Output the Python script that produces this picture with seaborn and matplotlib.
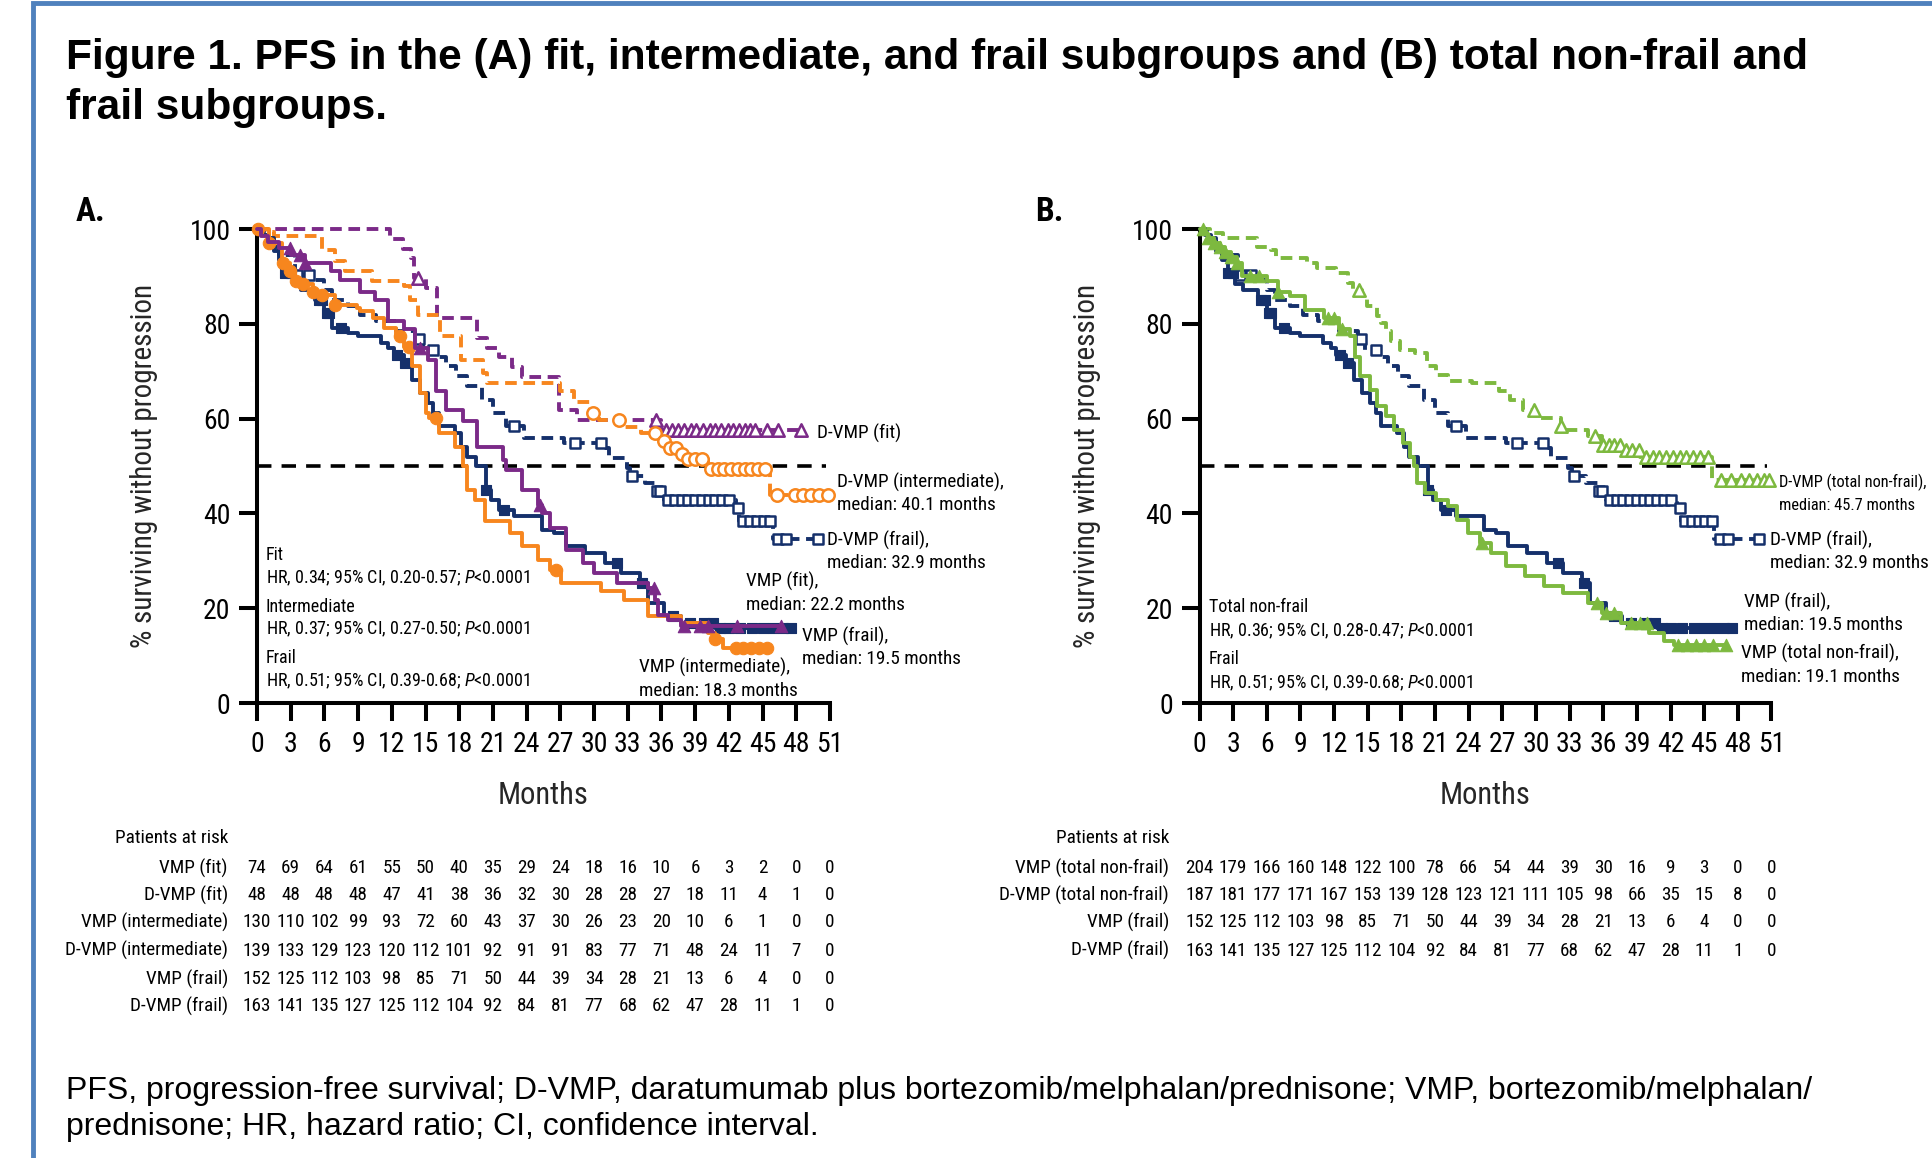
import numpy as np
import pandas as pd
import matplotlib
matplotlib.use("Agg")
import matplotlib.pyplot as plt
import matplotlib.transforms as mtransforms
import matplotlib.patches as mpatches
import matplotlib.font_manager as fm
import seaborn as sns

W, H, DPI = 1933, 1158, 100

# ---------------- axis ticks ----------------
month_ticks = list(range(0, 52, 3))
pct_ticks = [0, 20, 40, 60, 80, 100]

# ---------------- KM curves: step times (months) and survival % after each step ----------------
# VMP (fit)
vmp_fit_t = [0.4, 1.0, 2.0, 3.0, 4.3, 6.6, 7.4, 9.2, 10.5, 11.7, 13.1, 14.1, 15.2, 15.9, 16.8, 18.3,
             19.6, 21.9, 22.2, 23.6, 25.0, 25.4, 26.1, 27.5, 29.0, 30.0, 32.0, 34.8, 35.4, 35.7, 36.6, 37.7]
vmp_fit_s = [98.6, 97.3, 95.9, 94.6, 92.8, 91.2, 89.3, 86.8, 85.1, 80.5, 78.8, 74.9, 72.4, 65.8, 61.9, 59.4,
             54.1, 51.3, 49.2, 45.0, 41.8, 40.1, 36.9, 32.3, 29.5, 27.4, 25.3, 24.3, 21.8, 18.6, 17.6, 16.2]
vmp_fit_end = 46.6
vmp_fit_cens = [2.9, 3.8, 4.3, 14.5, 25.2, 35.3, 38.0, 39.4, 40.1, 42.7, 46.6]

# D-VMP (fit)
dvmp_fit_t = [11.8, 13.0, 13.7, 14.0, 15.0, 16.0, 19.6, 20.5, 21.5, 22.7, 23.6, 26.9, 28.5, 36.0]
dvmp_fit_s = [97.9, 95.8, 93.8, 89.6, 87.5, 81.2, 77.1, 75.0, 72.9, 70.8, 68.7, 61.9, 59.8, 57.5]
dvmp_fit_end = 48.4
dvmp_fit_cens = [14.3, 35.5, 36.4, 36.9, 37.5, 38.0, 38.6, 39.1, 39.7, 40.3, 40.8, 41.3, 41.9,
                 42.4, 42.9, 43.4, 43.9, 44.3, 45.4, 46.4, 48.4]

# VMP (intermediate)
vmp_int_t = [1.1, 2.2, 2.9, 3.4, 4.1, 5.0, 5.7, 6.9, 8.9, 9.2, 10.3, 11.3, 12.4, 13.1, 13.6, 13.8, 14.5,
             15.0, 15.3, 16.2, 17.6, 18.3, 18.7, 19.4, 20.3, 22.5, 23.6, 25.0, 26.1, 27.1, 30.6, 32.7,
             34.8, 37.7, 40.1, 40.8, 41.5]
vmp_int_s = [97.0, 92.8, 91.1, 89.0, 88.3, 86.8, 86.1, 84.0, 83.3, 82.6, 81.2, 79.1, 77.4, 75.2, 74.2, 71.0,
             65.4, 61.2, 60.1, 57.0, 54.1, 49.9, 45.0, 42.9, 38.3, 35.9, 33.1, 30.2, 28.1, 25.3, 23.6,
             21.8, 18.3, 16.9, 14.8, 13.4, 11.6]
vmp_int_end = 45.4
vmp_int_cens = [0.1, 1.1, 2.3, 2.9, 3.5, 4.1, 5.0, 5.8, 6.9, 12.7, 13.5, 15.9, 26.6, 40.8, 42.6, 43.3,
                44.0, 44.7, 45.4]

# D-VMP (intermediate)
dvmp_int_t = [0.7, 1.5, 5.8, 6.9, 7.8, 10.2, 13.1, 13.6, 14.3, 16.3, 18.2, 20.1, 20.5, 27.0, 28.2, 29.6,
              30.4, 32.3, 34.2, 35.8, 36.6, 37.4, 38.2, 40.1, 45.7]
dvmp_int_s = [99.3, 98.5, 95.6, 93.2, 91.2, 89.0, 87.9, 85.0, 81.9, 77.4, 72.4, 69.6, 67.6, 65.8, 63.6, 61.2,
              59.8, 58.2, 57.0, 55.2, 53.8, 52.6, 51.5, 49.4, 43.9]
dvmp_int_end = 50.8
dvmp_int_cens = [29.9, 32.2, 35.4, 36.2, 36.8, 37.3, 37.8, 38.4, 39.0, 39.6, 40.4, 41.0, 41.6, 42.2, 42.8,
                 43.4, 44.0, 44.6, 45.2, 46.3, 47.9, 48.6, 49.3, 50.0, 50.8]

# VMP (frail)
vmp_frail_t = [0.5, 1.0, 1.5, 2.0, 2.5, 3.2, 3.9, 5.2, 6.0, 6.7, 8.1, 9.0, 11.0, 11.7, 12.2, 13.1, 13.8,
               14.5, 15.2, 15.7, 16.2, 17.6, 18.2, 18.7, 19.5, 20.4, 20.8, 21.5, 22.9, 25.4, 26.4, 27.5,
               29.2, 31.0, 32.4, 34.1, 34.8, 36.2, 37.7, 40.8]
vmp_frail_s = [98.7, 97.4, 95.4, 93.4, 90.8, 88.3, 87.2, 85.1, 82.3, 79.1, 78.1, 77.4, 75.9, 74.9, 73.5, 71.7,
               68.2, 65.4, 63.3, 61.2, 58.4, 57.0, 54.1, 52.0, 49.9, 45.0, 42.9, 40.8, 39.4, 36.6, 35.9,
               33.1, 31.6, 29.5, 27.4, 25.3, 21.1, 18.3, 16.9, 15.8]
vmp_frail_end = 47.5
vmp_frail_cens = [2.5, 3.0, 5.5, 5.8, 6.2, 6.4, 7.5, 12.5, 13.2, 20.4, 22.0, 32.0, 34.3, 37.0, 38.5,
                  39.8, 40.6, 41.2, 42.0, 43.0, 44.1, 45.0, 45.9, 46.8, 47.5]

# D-VMP (frail)
dvmp_frail_t = [0.5, 1.0, 1.5, 2.0, 3.4, 5.0, 6.0, 6.7, 8.1, 9.2, 10.6, 12.4, 14.1, 14.8, 15.9, 16.8, 17.7,
                18.7, 20.0, 21.0, 22.2, 23.8, 27.3, 30.7, 31.3, 32.9, 33.2, 34.5, 35.5, 36.2, 42.6, 42.9,
                45.9]
dvmp_frail_s = [99.4, 98.1, 96.3, 94.6, 90.4, 89.3, 87.2, 85.1, 83.7, 81.9, 80.5, 78.4, 76.7, 74.5, 73.1,
                71.0, 68.9, 66.8, 64.0, 61.2, 58.4, 55.9, 54.9, 53.8, 51.7, 49.6, 47.8, 46.4, 44.7, 42.9,
                41.1, 38.3, 34.5]
dvmp_frail_end = 49.9
dvmp_frail_cens = [3.6, 4.6, 14.4, 15.7, 22.9, 28.3, 30.6, 33.4, 35.6, 35.9, 36.6, 37.2, 37.8, 38.4, 39.0,
                   39.6, 40.2, 40.8, 41.4, 42.0, 42.8, 43.3, 43.9, 44.5, 45.1, 45.7, 46.4, 47.1, 49.9]

# VMP (total non-frail)
vmp_nf_t = [0.4, 0.8, 1.3, 1.8, 2.3, 2.8, 3.3, 3.8, 6.0, 7.0, 8.1, 9.4, 11.1, 12.4, 13.4, 13.9, 14.3, 15.2,
            15.8, 16.6, 17.3, 18.1, 18.8, 19.1, 19.4, 20.1, 21.1, 22.2, 23.0, 23.9, 25.0, 26.0, 27.3, 29.0,
            30.7, 32.4, 34.6, 35.9, 37.6, 40.1, 41.4, 42.3]
vmp_nf_s = [99.0, 98.0, 97.0, 96.1, 95.1, 94.1, 92.8, 90.0, 89.0, 86.8, 85.8, 83.0, 81.2, 78.8, 77.4, 73.1,
            68.9, 66.1, 62.6, 60.5, 57.7, 54.9, 52.0, 49.9, 46.4, 44.3, 42.9, 41.5, 38.7, 35.9, 33.8, 31.6,
            28.8, 26.7, 24.6, 23.2, 21.1, 19.0, 16.9, 14.8, 13.0, 12.3]
vmp_nf_end = 46.9
vmp_nf_cens = [0.3, 0.8, 1.3, 1.8, 2.3, 2.8, 3.3, 4.5, 5.3, 7.0, 11.5, 12.0, 12.7, 25.2, 35.4, 36.2, 37.0,
               38.5, 39.3, 39.9, 42.7, 43.5, 44.3, 45.0, 45.8, 46.9]

# D-VMP (total non-frail)
dvmp_nf_t = [0.9, 2.1, 5.1, 6.4, 6.8, 9.6, 10.5, 12.2, 13.2, 13.7, 14.5, 14.9, 15.8, 16.2, 16.6, 17.1, 17.9,
             19.2, 20.3, 21.1, 22.2, 24.3, 26.7, 27.7, 28.8, 29.9, 32.2, 32.4, 34.6, 35.9, 37.6, 39.3, 45.7]
dvmp_nf_s = [99.2, 98.1, 96.3, 95.6, 93.9, 92.8, 91.8, 90.7, 88.6, 87.2, 85.8, 83.7, 81.6, 80.2, 78.4, 76.3,
             74.5, 73.8, 71.0, 69.3, 67.9, 67.5, 65.8, 64.0, 61.9, 60.1, 58.4, 57.7, 56.3, 54.5, 53.3, 52.0,
             47.1]
dvmp_nf_end = 50.8
dvmp_nf_cens = [14.2, 29.8, 32.2, 35.3, 36.0, 36.5, 37.0, 37.5, 38.0, 38.6, 39.2, 39.8, 40.4, 41.0, 41.6,
                42.2, 42.8, 43.4, 44.0, 44.6, 45.3, 46.5, 47.4, 48.3, 49.0, 49.7, 50.3, 50.8]

# ---------------- patients at risk ----------------
risk_vmp_fit = [74, 69, 64, 61, 55, 50, 40, 35, 29, 24, 18, 16, 10, 6, 3, 2, 0, 0]
risk_dvmp_fit = [48, 48, 48, 48, 47, 41, 38, 36, 32, 30, 28, 28, 27, 18, 11, 4, 1, 0]
risk_vmp_int = [130, 110, 102, 99, 93, 72, 60, 43, 37, 30, 26, 23, 20, 10, 6, 1, 0, 0]
risk_dvmp_int = [139, 133, 129, 123, 120, 112, 101, 92, 91, 91, 83, 77, 71, 48, 24, 11, 7, 0]
risk_vmp_frail = [152, 125, 112, 103, 98, 85, 71, 50, 44, 39, 34, 28, 21, 13, 6, 4, 0, 0]
risk_dvmp_frail = [163, 141, 135, 127, 125, 112, 104, 92, 84, 81, 77, 68, 62, 47, 28, 11, 1, 0]
risk_vmp_nf = [204, 179, 166, 160, 148, 122, 100, 78, 66, 54, 44, 39, 30, 16, 9, 3, 0, 0]
risk_dvmp_nf = [187, 181, 177, 171, 167, 153, 139, 128, 123, 121, 111, 105, 98, 66, 35, 15, 8, 0]

risk_labels_A = ["VMP (fit)", "D-VMP (fit)", "VMP (intermediate)", "D-VMP (intermediate)",
                 "VMP (frail)", "D-VMP (frail)"]
risk_labels_B = ["VMP (total non-frail)", "D-VMP (total non-frail)", "VMP (frail)", "D-VMP (frail)"]

# ---------------- texts ----------------
title_lines = ["Figure 1. PFS in the (A) fit, intermediate, and frail subgroups and (B) total non-frail and",
               "frail subgroups."]
caption_lines = ["PFS, progression-free survival; D-VMP, daratumumab plus bortezomib/melphalan/prednisone; VMP, bortezomib/melphalan/",
                 "prednisone; HR, hazard ratio; CI, confidence interval."]
hr_lines_A = [("Fit", "HR, 0.34; 95% CI, 0.20-0.57; $P$<0.0001"),
              ("Intermediate", "HR, 0.37; 95% CI, 0.27-0.50; $P$<0.0001"),
              ("Frail", "HR, 0.51; 95% CI, 0.39-0.68; $P$<0.0001")]
hr_lines_B = [("Total non-frail", "HR, 0.36; 95% CI, 0.28-0.47; $P$<0.0001"),
              ("Frail", "HR, 0.51; 95% CI, 0.39-0.68; $P$<0.0001")]

# ---------------- style ----------------
PURPLE = "#7B2A88"
ORANGE = "#F7861E"
NAVY = "#15306B"
GREEN = "#7DB93F"
BORDER = "#4F81BD"

sns.set_style("ticks")
_names = {f.name for f in fm.fontManager.ttflist}
NARROW = "DejaVu Sans"
for cand in ["Liberation Sans Narrow", "Arial Narrow", "Roboto Condensed", "Open Sans Condensed"]:
    if cand in _names:
        NARROW = cand
        break
WIDE = "Liberation Sans" if "Liberation Sans" in _names else "DejaVu Sans"
plt.rcParams["font.family"] = [NARROW, "DejaVu Sans"]
plt.rcParams["font.stretch"] = "condensed"
plt.rcParams["mathtext.fontset"] = "custom"
plt.rcParams["mathtext.rm"] = NARROW
plt.rcParams["mathtext.it"] = NARROW + ":italic"
plt.rcParams["axes.edgecolor"] = "black"
plt.rcParams["xtick.color"] = "black"
plt.rcParams["ytick.color"] = "black"
plt.rcParams["text.color"] = "black"


def fx(px):
    return px / W


def fy(py):
    return 1 - py / H


fig = plt.figure(figsize=(W / DPI, H / DPI), dpi=DPI)
fig.patch.set_facecolor("white")

# outer blue frame (cut by the image on the right and bottom)
fig.patches.append(mpatches.Rectangle((fx(33), -0.2), 1.2, fy(3) + 0.2, transform=fig.transFigure,
                                      fill=False, edgecolor=BORDER, linewidth=3.5))

AX_Y0, AX_Y100 = 703, 229
axA = fig.add_axes([fx(257), fy(AX_Y0), fx(830) - fx(257), fy(AX_Y100) - fy(AX_Y0)])
axB = fig.add_axes([fx(1199.5), fy(AX_Y0), fx(1771.5) - fx(1199.5), fy(AX_Y100) - fy(AX_Y0)])


def km_frame(t, s, end):
    x = np.concatenate([[0.0], t, [end]])
    y = np.concatenate([[100.0], s, [s[-1]]])
    return pd.DataFrame({"month": x, "pct": y})


def censor_frame(t, s, c):
    levels = np.concatenate([[100.0], s])
    idx = np.searchsorted(np.asarray(t), np.asarray(c), side="right")
    return pd.DataFrame({"month": c, "pct": levels[idx]})


def draw_curve(ax, t, s, end, cens, color, dashed, marker, filled, z, ms=80):
    ls = (0, (3.0, 1.7)) if dashed else "-"
    sns.lineplot(data=km_frame(t, s, end), x="month", y="pct", ax=ax, color=color, linewidth=2.8,
                 linestyle=ls, drawstyle="steps-post", estimator=None, sort=False, clip_on=False,
                 zorder=z)
    cf = censor_frame(t, s, cens)
    if filled:
        sns.scatterplot(data=cf, x="month", y="pct", ax=ax, marker=marker, s=ms, color=color,
                        edgecolor=color, linewidth=0.8, clip_on=False, zorder=z + 0.5)
    else:
        sns.scatterplot(data=cf, x="month", y="pct", ax=ax, marker=marker, s=ms, facecolor="white",
                        edgecolor=color, linewidth=1.8, clip_on=False, zorder=z + 0.5)


# Panel A curves
draw_curve(axA, dvmp_fit_t, dvmp_fit_s, dvmp_fit_end, dvmp_fit_cens, PURPLE, True, "^", False, 3)
draw_curve(axA, dvmp_int_t, dvmp_int_s, dvmp_int_end, dvmp_int_cens, ORANGE, True, "o", False, 3)
draw_curve(axA, dvmp_frail_t, dvmp_frail_s, dvmp_frail_end, dvmp_frail_cens, NAVY, True, "s", False, 3, 60)
draw_curve(axA, vmp_frail_t, vmp_frail_s, vmp_frail_end, vmp_frail_cens, NAVY, False, "s", True, 4, 60)
draw_curve(axA, vmp_int_t, vmp_int_s, vmp_int_end, vmp_int_cens, ORANGE, False, "o", True, 5)
draw_curve(axA, vmp_fit_t, vmp_fit_s, vmp_fit_end, vmp_fit_cens, PURPLE, False, "^", True, 6)

# Panel B curves
draw_curve(axB, dvmp_nf_t, dvmp_nf_s, dvmp_nf_end, dvmp_nf_cens, GREEN, True, "^", False, 3)
draw_curve(axB, dvmp_frail_t, dvmp_frail_s, dvmp_frail_end, dvmp_frail_cens, NAVY, True, "s", False, 3, 60)
draw_curve(axB, vmp_frail_t, vmp_frail_s, vmp_frail_end, vmp_frail_cens, NAVY, False, "s", True, 4, 60)
draw_curve(axB, vmp_nf_t, vmp_nf_s, vmp_nf_end, vmp_nf_cens, GREEN, False, "^", True, 5)

for ax in (axA, axB):
    ax.axhline(50, xmin=0, xmax=50.6 / 51, color="black", linewidth=2.6, linestyle=(0, (4.0, 2.8)),
               zorder=2)
    ax.set_xlim(0, 51)
    ax.set_ylim(0, 100)
    ax.set_xticks(month_ticks)
    ax.set_xticklabels([str(m) for m in month_ticks])
    ax.set_yticks(pct_ticks)
    ax.set_yticklabels([str(p) for p in pct_ticks])
    sns.despine(ax=ax)
    for side in ("left", "bottom"):
        ax.spines[side].set_linewidth(2.9)
        ax.spines[side].set_color("black")
    ax.tick_params(axis="both", direction="out", length=13, width=2.9, labelsize=20)
    ax.tick_params(axis="x", pad=7)
    ax.tick_params(axis="y", pad=6)
    ax.set_facecolor("none")
    ax.set_xlabel("Months", fontsize=22)
    ax.xaxis.set_label_coords(0.5, (AX_Y0 - 795) / (AX_Y0 - AX_Y100))
    ax.xaxis.label.set_va("center")
    ax.set_ylabel("% surviving without progression", fontsize=21)
    ax.yaxis.label.set_va("center")

axA.yaxis.set_label_coords((144 - 257) / (830 - 257), 0.5)
axB.yaxis.set_label_coords((1087 - 1199.5) / (1771.5 - 1199.5), 0.5)

# Title and caption
for i, line in enumerate(title_lines):
    fig.text(fx(66), fy(58 + 50.5 * i), line, ha="left", va="center", fontsize=30.5,
             fontweight="bold", family=WIDE, stretch="normal")
for i, line in enumerate(caption_lines):
    fig.text(fx(66), fy(1091 + 36 * i), line, ha="left", va="center", fontsize=23,
             family=WIDE, stretch="normal")

# Panel letters
fig.text(fx(76), fy(212), "A.", ha="left", va="center", fontsize=24, fontweight="bold")
fig.text(fx(1035), fy(212), "B.", ha="left", va="center", fontsize=24, fontweight="bold")

# HR annotations
for i, (head, body) in enumerate(hr_lines_A):
    fig.text(fx(266), fy(555 + 51.5 * i), head, ha="left", va="center", fontsize=13)
    fig.text(fx(266), fy(578 + 51.5 * i), body, ha="left", va="center", fontsize=13)
for i, (head, body) in enumerate(hr_lines_B):
    fig.text(fx(1209), fy(607 + 52 * i), head, ha="left", va="center", fontsize=13)
    fig.text(fx(1209), fy(631 + 52 * i), body, ha="left", va="center", fontsize=13)

# Curve end labels: (x px, y px, lines, font size)
end_labels = [
    (817, 433, ["D-VMP (fit)"], 13.8),
    (837, 482, ["D-VMP (intermediate),", "median: 40.1 months"], 13.8),
    (827, 540, ["D-VMP (frail),", "median: 32.9 months"], 13.8),
    (746, 581, ["VMP (fit),", "median: 22.2 months"], 13.8),
    (802, 636, ["VMP (frail),", "median: 19.5 months"], 13.8),
    (639, 667, ["VMP (intermediate),", "median: 18.3 months"], 13.8),
    (1779, 482, ["D-VMP (total non-frail),", "median: 45.7 months"], 11.8),
    (1770, 540, ["D-VMP (frail),", "median: 32.9 months"], 13.8),
    (1744, 602, ["VMP (frail),", "median: 19.5 months"], 13.8),
    (1741, 653, ["VMP (total non-frail),", "median: 19.1 months"], 13.8),
]
for x0, y0, lines, fsz in end_labels:
    for j, ln in enumerate(lines):
        fig.text(fx(x0), fy(y0 + 23.5 * j), ln, ha="left", va="center", fontsize=fsz)

# Patients at risk tables
rows_y = [868, 895, 922, 950.5, 979, 1006]


def risk_table(ax, label_right, labels, rows):
    tr = mtransforms.blended_transform_factory(ax.transData, fig.transFigure)
    fig.text(fx(label_right), fy(838), "Patients at risk", ha="right", va="center", fontsize=13.8)
    for k, (lab, vals) in enumerate(zip(labels, rows)):
        fig.text(fx(label_right), fy(rows_y[k]), lab, ha="right", va="center", fontsize=13.8)
        for m, v in zip(month_ticks, vals):
            ax.text(m, fy(rows_y[k]), str(v), transform=tr, ha="center", va="center", fontsize=13.8,
                    clip_on=False)


risk_table(axA, 228, risk_labels_A,
           [risk_vmp_fit, risk_dvmp_fit, risk_vmp_int, risk_dvmp_int, risk_vmp_frail, risk_dvmp_frail])
risk_table(axB, 1169, risk_labels_B, [risk_vmp_nf, risk_dvmp_nf, risk_vmp_frail, risk_dvmp_frail])

fig.savefig("out.png", dpi=DPI, facecolor="white")
